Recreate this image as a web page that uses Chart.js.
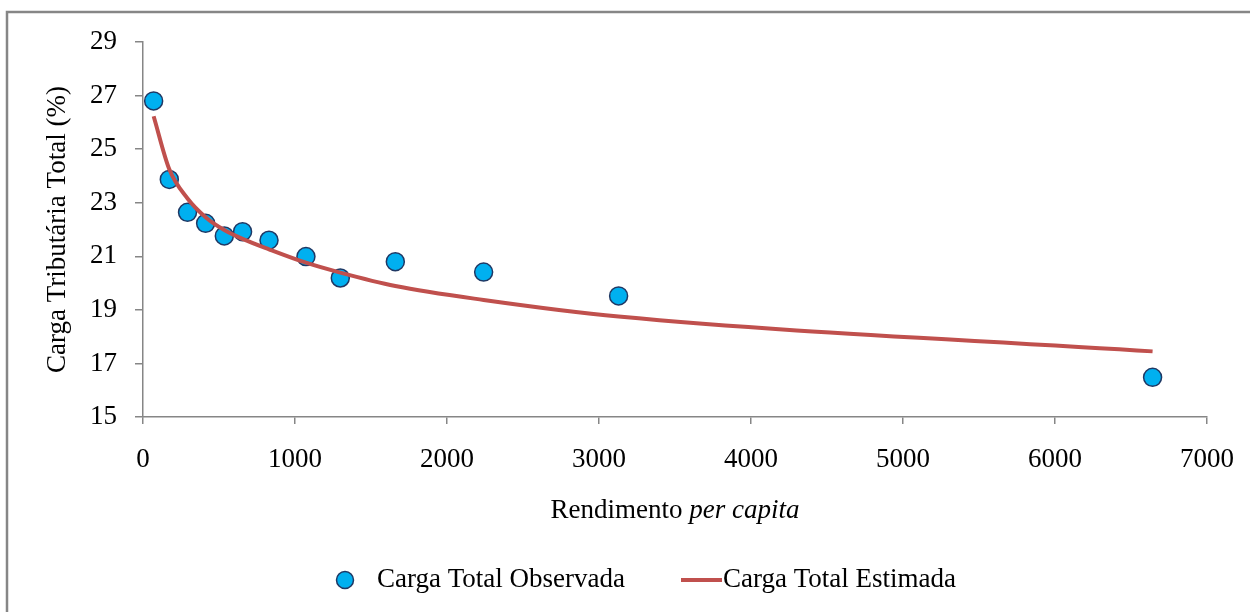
<!DOCTYPE html>
<html>
<head>
<meta charset="utf-8">
<script src="https://cdn.jsdelivr.net/npm/chart.js@4.4.1/dist/chart.umd.min.js"></script>
<style>
  html, body { margin: 0; padding: 0; background: #fff; }
  #wrap { width: 1250px; height: 612px; }
</style>
</head>
<body>
<div id="wrap"><canvas id="grafico" width="1250" height="612"></canvas></div>
<script>
// --- DADOS ---
const rendimento = [70, 173, 293, 412, 535, 655, 829, 1072, 1298, 1660, 2241, 3129, 6642];
const cargaObservada = [26.80, 23.87, 22.64, 22.23, 21.76, 21.92, 21.60, 20.99, 20.19, 20.80, 20.41, 19.52, 16.48];
const cargaEstimada = [26.23, 24.25, 23.16, 22.46, 21.98, 21.65, 21.26, 20.76, 20.39, 19.89, 19.37, 18.75, 17.45];
const ticksX = [0, 1000, 2000, 3000, 4000, 5000, 6000, 7000];
const ticksY = [15, 17, 19, 21, 23, 25, 27, 29];
const legendas = ['Carga Total Observada', 'Carga Total Estimada'];

const FONTE = '"Liberation Serif", "Times New Roman", serif';
const TAM = 27;
const CINZA = '#868686';
const AZUL = '#00B0F0';
const VERMELHO = '#C0504D';

// Títulos, legenda e moldura desenhados à mão (texto misto normal/itálico)
const extras = {
    id: 'extras',
    afterDraw(chart) {
        const ctx = chart.ctx;
        const area = chart.chartArea;
        ctx.save();

        // moldura (só esquerda e topo aparecem no recorte)
        ctx.strokeStyle = CINZA;
        ctx.lineWidth = 2.5;
        ctx.beginPath();
        ctx.moveTo(7, 612);
        ctx.lineTo(7, 12);
        ctx.lineTo(1250, 12);
        ctx.stroke();

        ctx.fillStyle = '#000';
        ctx.textBaseline = 'middle';

        // titulo eixo x: "Rendimento per capita"
        const p1 = 'Rendimento ';
        const p2 = 'per capita';
        ctx.font = TAM + 'px ' + FONTE;
        const w1 = ctx.measureText(p1).width;
        ctx.font = 'italic ' + TAM + 'px ' + FONTE;
        const w2 = ctx.measureText(p2).width;
        const cx = (area.left + area.right) / 2;
        const x0 = cx - (w1 + w2) / 2;
        ctx.textAlign = 'left';
        ctx.font = TAM + 'px ' + FONTE;
        ctx.fillText(p1, x0, 511);
        ctx.font = 'italic ' + TAM + 'px ' + FONTE;
        ctx.fillText(p2, x0 + w1, 511);

        // titulo eixo y
        ctx.font = TAM + 'px ' + FONTE;
        ctx.save();
        ctx.translate(58, (area.top + area.bottom) / 2);
        ctx.rotate(-Math.PI / 2);
        ctx.textAlign = 'center';
        ctx.fillText('Carga Tributária Total (%)', 0, 0);
        ctx.restore();

        // legenda
        const ly = 580;
        ctx.beginPath();
        ctx.arc(345, ly, 8.5, 0, Math.PI * 2);
        ctx.fillStyle = AZUL;
        ctx.fill();
        ctx.lineWidth = 1.5;
        ctx.strokeStyle = '#1F3864';
        ctx.stroke();
        ctx.fillStyle = '#000';
        ctx.textAlign = 'left';
        ctx.fillText(legendas[0], 377, ly);

        ctx.beginPath();
        ctx.moveTo(681, ly);
        ctx.lineTo(722, ly);
        ctx.lineWidth = 4;
        ctx.strokeStyle = VERMELHO;
        ctx.stroke();
        ctx.fillText(legendas[1], 723, ly);

        ctx.restore();
    }
};

new Chart(document.getElementById('grafico'), {
    type: 'scatter',
    data: {
        datasets: [
            {
                label: legendas[1],
                data: rendimento.map((x, i) => ({ x: x, y: cargaEstimada[i] })),
                showLine: true,
                borderColor: VERMELHO,
                borderWidth: 4,
                pointRadius: 0,
                cubicInterpolationMode: 'monotone',
                order: 0
            },
            {
                label: legendas[0],
                data: rendimento.map((x, i) => ({ x: x, y: cargaObservada[i] })),
                backgroundColor: AZUL,
                borderColor: '#1F3864',
                borderWidth: 1.5,
                pointRadius: 9,
                order: 1
            }
        ]
    },
    options: {
        responsive: false,
        animation: false,
        layout: { padding: { top: 42, right: 43, left: 0, bottom: 0 } },
        plugins: { legend: { display: false }, tooltip: { enabled: false } },
        scales: {
            x: {
                min: 0, max: 7000,
                afterBuildTicks: s => { s.ticks = ticksX.map(v => ({ value: v })); },
                afterFit: s => { s.height = 195; s.paddingLeft = 0; s.paddingRight = 0; },
                grid: { drawOnChartArea: false, color: CINZA, tickLength: 7, lineWidth: 1.5 },
                border: { color: CINZA, width: 1.5 },
                ticks: {
                    color: '#000', font: { family: FONTE, size: TAM }, padding: 20, maxRotation: 0,
                    callback: v => String(v)
                }
            },
            y: {
                min: 15, max: 29,
                afterBuildTicks: s => { s.ticks = ticksY.map(v => ({ value: v })); },
                afterFit: s => { s.width = 143; s.paddingTop = 0; s.paddingBottom = 0; },
                grid: { drawOnChartArea: false, color: CINZA, tickLength: 8, lineWidth: 1.5 },
                border: { color: CINZA, width: 1.5 },
                ticks: { color: '#000', font: { family: FONTE, size: TAM }, padding: 18, callback: v => String(v) }
            }
        }
    },
    plugins: [extras]
});
</script>
</body>
</html>
